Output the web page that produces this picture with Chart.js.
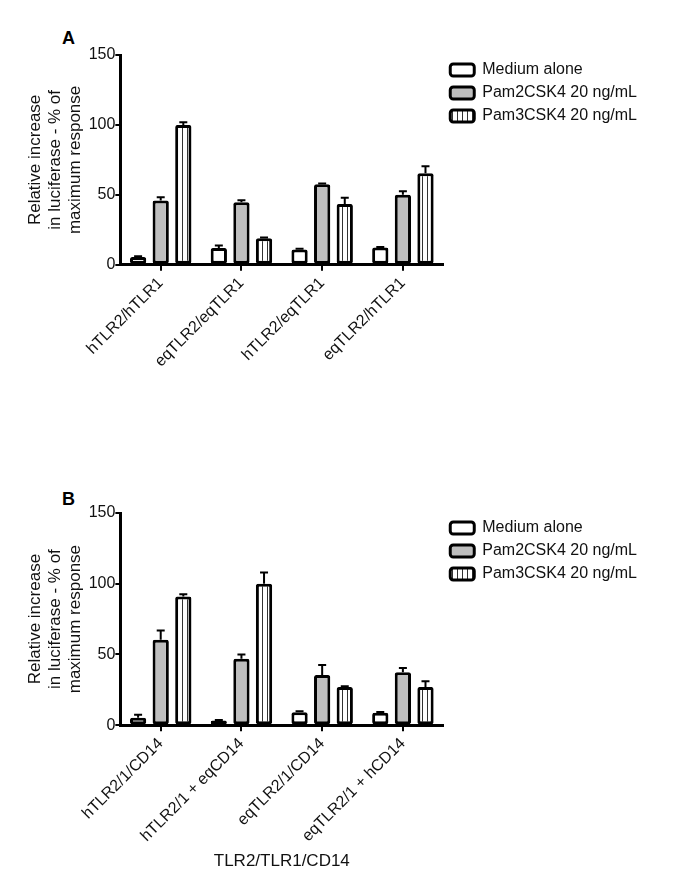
<!DOCTYPE html>
<html>
<head>
<meta charset="utf-8">
<script src="https://cdn.jsdelivr.net/npm/chart.js@4/dist/chart.umd.min.js"></script>
<style>
  body { margin: 0; background: #fff; }
  #wrap { position: relative; width: 685px; height: 894px; font-family: "Liberation Sans", Arial, sans-serif; }
  canvas { position: absolute; left: 0; }
  .panel { position: absolute; left: 62px; font-weight: bold; font-size: 18px; color: #000; }
</style>
</head>
<body>
<div id="wrap">
  <div class="panel" style="top:28px">A</div>
  <canvas id="chartA" width="685" height="400" style="top:0"></canvas>
  <div class="panel" style="top:489px">B</div>
  <canvas id="chartB" width="685" height="434" style="top:460px"></canvas>
</div>
<script>
// Panel A - receptor combinations
const groupsA = ['hTLR2/hTLR1', 'eqTLR2/eqTLR1', 'hTLR2/eqTLR1', 'eqTLR2/hTLR1'];
const mediumA = [5.5, 12, 11, 12.3];
const mediumErrA = [0.6, 1.8, 0.5, 0.5];
const pam2A = [46, 44.7, 57.5, 50];
const pam2ErrA = [2.2, 1.5, 0.6, 2.5];
const pam3A = [100, 19, 43.5, 65.5];
const pam3ErrA = [2, 0.5, 4.5, 5];

// Panel B - with CD14
const groupsB = ['hTLR2/1/CD14', 'hTLR2/1 + eqCD14', 'eqTLR2/1/CD14', 'eqTLR2/1 + hCD14'];
const mediumB = [5.2, 3.3, 9.2, 8.8];
const mediumErrB = [2.2, 0.4, 0.6, 0.5];
const pam2B = [60.5, 47, 35.5, 37.5];
const pam2ErrB = [6.5, 3, 7, 3];
const pam3B = [91, 100, 27, 27];
const pam3ErrB = [1.5, 8, 0.6, 4];

const seriesNames = ['Medium alone', 'Pam2CSK4 20 ng/mL', 'Pam3CSK4 20 ng/mL'];
const yTitle = ['Relative increase', 'in luciferase - % of', 'maximum response'];

const FONT = '"Liberation Sans", Arial, sans-serif';

// motif rayé vertical
function stripes(ctx) {
    const c = document.createElement('canvas');
    c.width = 5; c.height = 5;
    const g = c.getContext('2d');
    g.fillStyle = '#fff';
    g.fillRect(0, 0, 5, 5);
    g.fillStyle = '#333';
    g.fillRect(2, 0, 1, 5);
    return ctx.createPattern(c, 'repeat');
}

// barres d'erreur (seulement vers le haut)
const errorBars = {
    id: 'errorBars',
    afterDatasetsDraw(chart) {
        const { ctx, scales: { y } } = chart;
        ctx.save();
        ctx.strokeStyle = '#000';
        ctx.lineWidth = 2;
        chart.data.datasets.forEach((ds, i) => {
            const meta = chart.getDatasetMeta(i);
            meta.data.forEach((bar, j) => {
                const top = y.getPixelForValue(ds.data[j] + ds.errors[j]);
                ctx.beginPath();
                ctx.moveTo(bar.x, bar.y);
                ctx.lineTo(bar.x, top);
                ctx.moveTo(bar.x - 4, top);
                ctx.lineTo(bar.x + 4, top);
                ctx.stroke();
            });
        });
        ctx.restore();
    }
};

function makeChart(id, labels, vals, errs, xTitle, padding) {
    const ctx = document.getElementById(id).getContext('2d');
    const fills = ['#ffffff', '#bebebe', stripes(ctx)];
    return new Chart(ctx, {
        type: 'bar',
        data: {
            labels,
            datasets: vals.map((v, i) => ({
                label: seriesNames[i],
                data: v,
                errors: errs[i],
                backgroundColor: fills[i],
                borderColor: '#000',
                borderWidth: 3,
                borderSkipped: false,
                borderRadius: 2,
                categoryPercentage: 0.84,
                barPercentage: 0.72
            }))
        },
        options: {
            responsive: false,
            animation: false,
            devicePixelRatio: 1,
            layout: { padding },
            plugins: {
                tooltip: { enabled: false },
                legend: {
                    position: 'right',
                    align: 'start',
                    maxWidth: 260,
                    labels: {
                        boxWidth: 24,
                        boxHeight: 12,
                        useBorderRadius: true,
                        borderRadius: 3,
                        padding: 7,
                        color: '#111',
                        font: { family: FONT, size: 16 }
                    }
                }
            },
            scales: {
                x: {
                    grid: { display: true, offset: false, drawOnChartArea: false, drawTicks: true, tickLength: 6, color: '#000', lineWidth: 2 },
                    border: { display: true, color: '#000', width: 3 },
                    ticks: { maxRotation: 45, minRotation: 45, color: '#111', font: { family: FONT, size: 16 } },
                    title: { display: !!xTitle, text: xTitle, color: '#111', font: { family: FONT, size: 17 }, padding: { top: 3 } }
                },
                y: {
                    min: 0,
                    max: 150,
                    grid: { display: true, drawOnChartArea: false, drawTicks: true, tickLength: 5, color: '#000', lineWidth: 2 },
                    border: { display: true, color: '#000', width: 3 },
                    ticks: { stepSize: 50, padding: 0, color: '#111', font: { family: FONT, size: 16 } },
                    title: { display: true, text: yTitle, color: '#111', font: { family: FONT, size: 17, lineHeight: 1.15 }, padding: { top: 0, bottom: 4 } }
                }
            }
        },
        plugins: [errorBars]
    });
}

makeChart('chartA', groupsA, [mediumA, pam2A, pam3A], [mediumErrA, pam2ErrA, pam3ErrA], '',
    { top: 55, left: 26, right: 38, bottom: 26 });
makeChart('chartB', groupsB, [mediumB, pam2B, pam3B], [mediumErrB, pam2ErrB, pam3ErrB], 'TLR2/TLR1/CD14',
    { top: 53, left: 26, right: 38, bottom: 18 });
</script>
</body>
</html>
